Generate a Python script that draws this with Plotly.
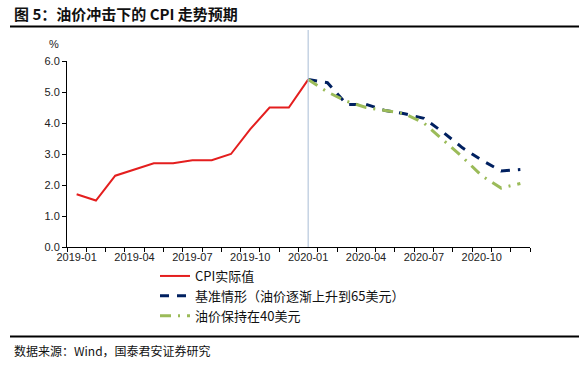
import plotly.graph_objects as go

# ---- data ----
months = [f"2019-{m:02d}" for m in range(1, 13)] + [f"2020-{m:02d}" for m in range(1, 13)]
tick_labels = ["2019-01", "2019-04", "2019-07", "2019-10", "2020-01", "2020-04", "2020-07", "2020-10"]
cpi_actual = [1.7, 1.5, 2.3, 2.5, 2.7, 2.7, 2.8, 2.8, 3.0, 3.8, 4.5, 4.5, 5.4]
forecast_months = months[12:]
base_case = [5.4, 5.3, 4.6, 4.6, 4.4, 4.3, 4.15, 3.7, 3.2, 2.8, 2.45, 2.5]
oil_40 = [5.4, 5.0, 4.7, 4.5, 4.4, 4.3, 4.0, 3.45, 2.9, 2.3, 1.9, 2.05]
series_names = ["CPI实际值", "基准情形（油价逐渐上升到65美元）", "油价保持在40美元"]

# ---- layout geometry (screen pixels) ----
W, H = 587, 382
L, R, T, B = 67, 530, 61, 247


def px_x(px):
    return (px - L) / (R - L)


def px_y(py):
    return (B - py) / (B - T)


fig = go.Figure()
fig.add_trace(go.Scatter(x=months[:len(cpi_actual)], y=cpi_actual, mode="lines",
                         name=series_names[0], line=dict(color="#E41E1E", width=2)))
fig.add_trace(go.Scatter(x=forecast_months, y=base_case, mode="lines",
                         name=series_names[1], line=dict(color="#002060", width=3, dash="9px,8px")))
fig.add_trace(go.Scatter(x=forecast_months, y=oil_40, mode="lines",
                         name=series_names[2], line=dict(color="#9BBB59", width=3, dash="11px,7px,2px,7px")))

cjk = "Noto Sans CJK SC"
fig.update_layout(
    template="none",
    width=W, height=H,
    margin=dict(l=L, r=W - R, t=T, b=H - B, autoexpand=False),
    paper_bgcolor="white", plot_bgcolor="white",
    showlegend=True,
    legend=dict(x=px_x(155), y=px_y(261), xanchor="left", yanchor="top",
                font=dict(family=cjk, size=13, color="#111"),
                bgcolor="rgba(0,0,0,0)", itemwidth=30),
    xaxis=dict(type="category", categoryorder="array", categoryarray=months,
               range=[-0.5, len(months) - 0.5], automargin=False,
               tickmode="array", tickvals=months,
               ticktext=[m if m in tick_labels else "" for m in months],
               tickson="boundaries", ticks="outside", ticklen=4, tickcolor="black",
               showline=True, linecolor="black", linewidth=1, showgrid=False,
               tickangle=0,
               tickfont=dict(family="Liberation Sans", size=11, color="#222")),
    yaxis=dict(range=[0, 6], dtick=1, tickformat=".1f", automargin=False,
               ticks="outside", ticklen=4, tickcolor="black",
               showline=True, linecolor="black", linewidth=1, showgrid=False,
               zeroline=False,
               tickfont=dict(family="Liberation Sans", size=11, color="#222")),
    shapes=[
        dict(type="line", xref="x", yref="paper", x0="2020-01", x1="2020-01",
             y0=0, y1=px_y(30), line=dict(color="#A9BCD6", width=1)),
        dict(type="line", xref="paper", yref="paper", x0=px_x(10), x1=px_x(579),
             y0=px_y(26.5), y1=px_y(26.5), line=dict(color="black", width=2)),
        dict(type="line", xref="paper", yref="paper", x0=px_x(10), x1=px_x(579),
             y0=px_y(336.5), y1=px_y(336.5), line=dict(color="black", width=2)),
    ],
    annotations=[
        dict(text="<b>图 5：油价冲击下的 CPI 走势预期</b>", xref="paper", yref="paper",
             x=px_x(12), y=px_y(13), xanchor="left", yanchor="middle", showarrow=False,
             font=dict(family=cjk, size=15, color="#111")),
        dict(text="%", xref="paper", yref="paper", x=px_x(54), y=px_y(44),
             xanchor="center", yanchor="middle", showarrow=False,
             font=dict(family="Liberation Sans", size=11, color="#222")),
        dict(text="数据来源：Wind，国泰君安证券研究", xref="paper", yref="paper",
             x=px_x(12), y=px_y(350), xanchor="left", yanchor="middle", showarrow=False,
             font=dict(family=cjk, size=12, color="#111")),
    ],
)

fig.write_html("out.html", config={"displayModeBar": False},
               post_script="document.body.style.margin='0px';")
